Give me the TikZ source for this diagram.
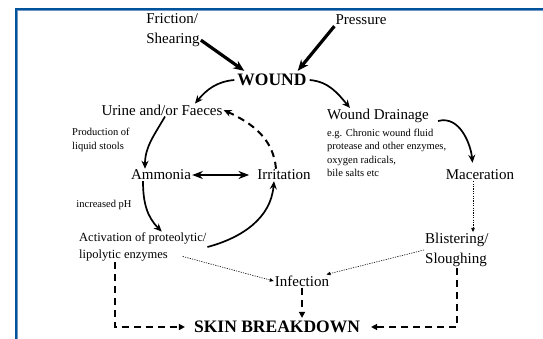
\documentclass[tikz,border=0pt]{standalone}
\usepackage{fontspec}
\setmainfont{Liberation Serif}
\usetikzlibrary{arrows.meta,positioning}
\definecolor{frameblue}{RGB}{0,82,155}
\definecolor{frameshade}{RGB}{110,150,200}

\begin{document}
\begin{tikzpicture}[x=1pt,y=1pt,>=Stealth,
   lbl/.style={font=\fontsize{15}{20}\selectfont,align=left,inner sep=1pt},
   big/.style={font=\fontsize{17.5}{20}\selectfont\bfseries,inner sep=3pt},
   mid/.style={font=\fontsize{12.5}{17}\selectfont,align=left,inner sep=1pt},
   small/.style={font=\fontsize{10.5}{13.5}\selectfont,align=left,inner sep=1pt},
   push/.style={-{Stealth[length=11pt,width=9pt]},line width=3.2pt},
   flow/.style={-{Stealth[length=8pt,width=7pt]},line width=1.7pt},
   weak/.style={-{Triangle[length=4pt,width=3.5pt]},line width=0.6pt,dash pattern=on 1.2pt off 1.2pt},
   link/.style={-{Triangle[length=6pt,width=6pt]},line width=2pt,dash pattern=on 7pt off 5pt}]
  \useasboundingbox (0,0) rectangle (543,-339);
  % frame
  \draw[frameshade,line width=1pt] (17.8,-339) -- (17.8,-10.8) -- (543,-10.8);
  \draw[frameblue,line width=2pt] (16,-339) -- (16,-9) -- (543,-9);
  % nodes
  \node[lbl] (fric) at (173,-30) {Friction/\\Shearing};
  \node[lbl] (press) at (361,-20) {Pressure};
  \node[big] (wound) at (272,-80) {WOUND};
  \node[lbl] (urine) at (162,-110) {Urine and/or Faeces};
  \node[small,anchor=west] (prod) at (71,-140) {Production of\\liquid stools};
  \node[lbl] (ammonia) at (161,-175) {Ammonia};
  \node[lbl] (irrit) at (284,-175) {Irritation};
  \node[small] (ph) at (104,-205) {increased pH};
  \node[mid,anchor=west] (activ) at (78,-247) {Activation of proteolytic/\\lipolytic enzymes};
  \node[lbl] (drain) at (378,-116) {Wound Drainage};
  \node[small,anchor=west] (drainnote) at (326,-153) {e.g. Chronic wound fluid\\protease and other enzymes,\\oxygen radicals,\\bile salts etc};
  \node[lbl] (macer) at (480,-175) {Maceration};
  \node[lbl,anchor=west] (blist) at (424,-250) {Blistering/\\Sloughing};
  \node[lbl] (infect) at (302,-281) {Infection};
  \node[big] (skin) at (277,-327) {SKIN BREAKDOWN};
  % causes
  \draw[push] (fric.-20) -- ([xshift=10pt]wound.north west);
  \draw[push] (press.south west) -- ([xshift=-12pt]wound.north east);
  % left cycle
  \draw[flow] (wound.west) to[out=185,in=50] ([xshift=33pt]urine.north);
  \draw[flow] ([xshift=3pt]urine.south) to[out=240,in=90] ([xshift=-16pt]ammonia.north);
  \draw[<->,line width=1.7pt,shorten >=7pt] (ammonia) -- (irrit);
  \draw[flow] ([xshift=-18pt]ammonia.south) to[out=-90,in=135] ([xshift=19pt]activ.north);
  \draw[flow] (activ.east) to[out=15,in=-95] ([xshift=-10pt]irrit.south);
  \draw[link,-{Stealth[length=8pt,width=7pt]}] ([xshift=-8pt]irrit.north) to[out=95,in=-25] (urine.east);
  % right branch
  \draw[flow] (wound.east) to[out=-5,in=130] ([xshift=-28pt]drain.north);
  \draw[flow,shorten >=6pt] ([shift={(8pt,-5pt)}]drain.east) to[out=15,in=95] ([xshift=-7pt]macer.north);
  \draw[weak] ([xshift=-7pt]macer.south) -- ([xshift=-7pt]macer.south |- blist.north);
  % infection
  \draw[weak] (blist.west) -- (infect.15);
  \draw[weak] ([shift={(40pt,6pt)}]activ.south) -- (infect.west);
  % breakdown
  \draw[link] (infect.south) -- (infect.south |- skin.north);
  \draw[link,shorten >=6pt] ([xshift=-28pt]activ.south) |- (skin.west);
  \draw[link,shorten >=8pt] (blist.south) |- (skin.east);
\end{tikzpicture}
\end{document}
